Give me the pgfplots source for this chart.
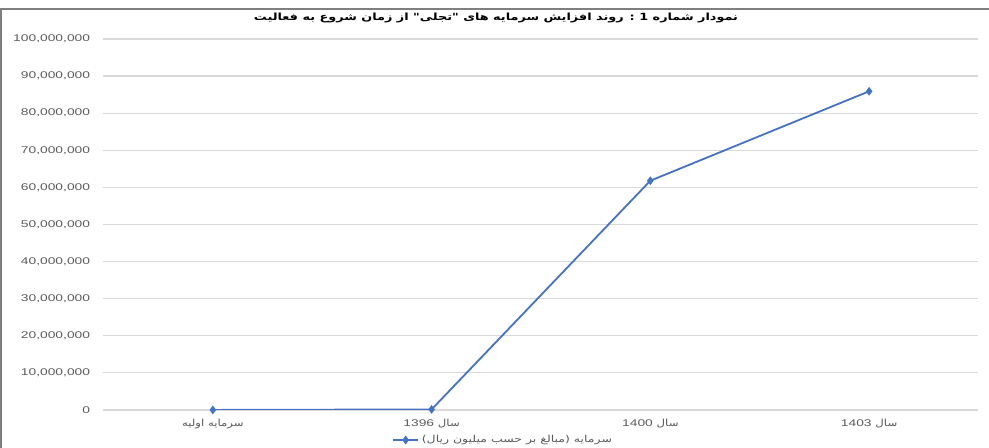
\documentclass[border=0pt]{standalone}
\usepackage{pgfplots}
\pgfplotsset{compat=1.18}
\usepackage{fontspec}
\TeXXeTstate=1
\setmainfont{Liberation Sans}[FakeStretch=1.42]
\newfontfamily\arabicfont[Script=Arabic,FakeStretch=1.2]{DejaVu Sans}
\newfontfamily\arabicwide[Script=Arabic,FakeStretch=1.3]{DejaVu Sans}
\definecolor{serieblue}{HTML}{4472C4}
\definecolor{gridgray}{HTML}{D9D9D9}
\definecolor{labelgray}{HTML}{595959}
\definecolor{framegray}{HTML}{7F7F7F}

\begin{document}
\begin{tikzpicture}
\path[use as bounding box] (0,0) rectangle (741.75pt,336pt);
% outer frame (left and top edges)
\draw[framegray, line width=1.3pt] (0.9pt,0pt) -- (0.9pt,329pt) -- (741.75pt,329pt);
% title
\node[font=\arabicwide\bfseries\fontsize{7.4}{9}\selectfont, text=black] at (372pt,322.3pt)
  {\beginR نمودار شماره \beginL 1\endL{} : روند افزایش سرمایه های "تجلی" از زمان شروع به فعالیت\endR};
\begin{axis}[
  at={(77.6pt,28.5pt)}, anchor=south west,
  scale only axis, width=656.25pt, height=278.25pt,
  xmin=-0.5, xmax=3.5, ymin=0, ymax=100000000,
  axis line style={draw=none},
  major tick length=0pt,
  xtick={0,1,2,3},
  xticklabels={
    {\arabicfont\beginR سرمایه اولیه\endR},
    {\beginR{\arabicfont سال} \beginL 1396\endL\endR},
    {\beginR{\arabicfont سال} \beginL 1400\endL\endR},
    {\beginR{\arabicfont سال} \beginL 1403\endL\endR}},
  ytick={0,10000000,20000000,30000000,40000000,50000000,60000000,70000000,80000000,90000000,100000000},
  scaled y ticks=false,
  /pgf/number format/fixed,
  /pgf/number format/1000 sep={,},
  /pgf/number format/assume math mode=true,
  ymajorgrids, grid style={gridgray, line width=0.9pt},
  tick label style={font=\fontsize{7.3}{9}\selectfont, text=labelgray},
  yticklabel style={xshift=-6.5pt},
  xticklabel style={yshift=-3pt},
  legend style={at={(0.457,-0.081)}, anchor=center, draw=none, fill=none,
    font=\arabicwide\fontsize{7.2}{9}\selectfont, text=labelgray,
    inner sep=0pt},
  legend image code/.code={%
    \draw[#1, mark repeat=2, mark phase=2] plot coordinates {(0pt,0pt) (9.5pt,0pt) (19pt,0pt)};},
]
\addplot[serieblue, line width=1.35pt, mark=diamond*, mark size=2.2pt,
  mark options={fill=serieblue}]
  coordinates {(0,20000) (1,150000) (2,61800000) (3,85900000)};
\addlegendentry{\beginR سرمایه (مبالغ بر حسب میلیون ریال)\endR}
\end{axis}
\end{tikzpicture}
\end{document}
